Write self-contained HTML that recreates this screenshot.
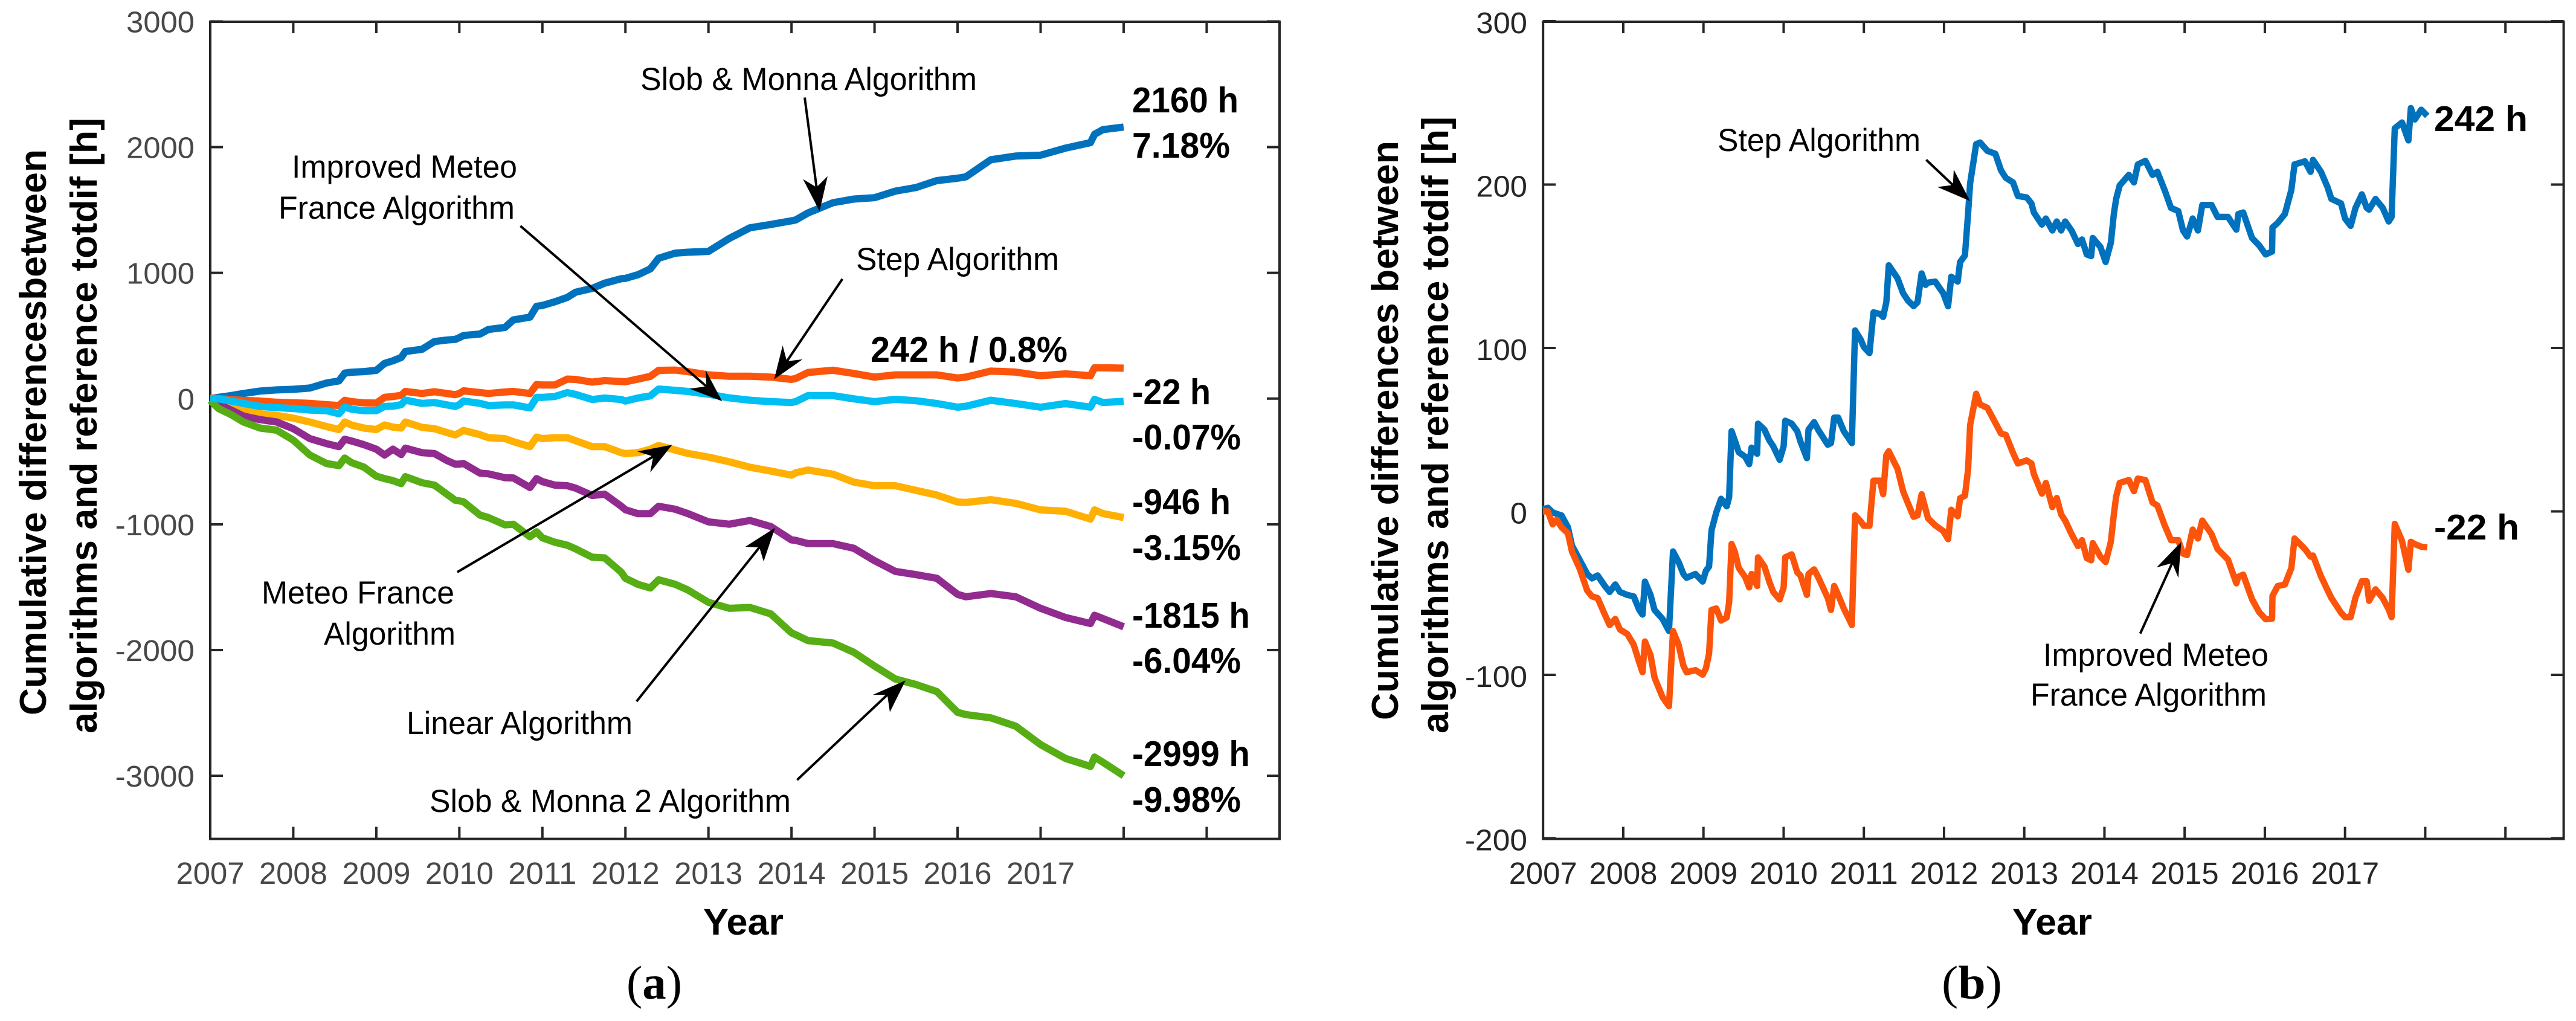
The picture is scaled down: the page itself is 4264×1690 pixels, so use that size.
<!DOCTYPE html>
<html lang="en">
<head>
<meta charset="utf-8">
<title>Cumulative differences between algorithms and reference totdif</title>
<style>
html,body{margin:0;padding:0;background:#fff;}
svg{display:block;}
text{font-family:"Liberation Sans",Arial,sans-serif;}
.ann{font-size:53px;fill:#000;}
.val{font-size:59px;font-weight:bold;fill:#000;}
.ttl{font-size:62px;font-weight:bold;fill:#000;}
.yr{font-size:61px;font-weight:bold;fill:#000;}
.cap{font-family:"Liberation Serif",serif;font-size:78px;fill:#000;}
.arrow-shaft{stroke:#000;stroke-width:4;fill:none;}
.arrow-head{fill:#000;stroke:none;}
</style>
</head>
<body>
<svg id="fig" xmlns="http://www.w3.org/2000/svg" width="4264" height="1690" viewBox="0 0 4264 1690">
<rect x="0" y="0" width="4264" height="1690" fill="#fff"/>
<g id="panelA"></g>
<g id="panelB"></g>

<g>
<text class="ttl" transform="translate(76,1184) rotate(-90)" textLength="937" lengthAdjust="spacingAndGlyphs">Cumulative differencesbetween</text>
<text class="ttl" transform="translate(160,1214) rotate(-90)" textLength="1019" lengthAdjust="spacingAndGlyphs">algorithms and reference totdif [h]</text>
<text class="yr" x="1164" y="1547" textLength="133" lengthAdjust="spacingAndGlyphs">Year</text>
<text class="cap" x="1037" y="1653" textLength="92" lengthAdjust="spacingAndGlyphs">(<tspan font-weight="bold">a</tspan>)</text>

<text class="ann" x="1060" y="149" textLength="557" lengthAdjust="spacingAndGlyphs">Slob &amp; Monna Algorithm</text>
<text class="ann" x="483" y="294" textLength="373" lengthAdjust="spacingAndGlyphs">Improved Meteo</text>
<text class="ann" x="461" y="362" textLength="391" lengthAdjust="spacingAndGlyphs">France Algorithm</text>
<text class="ann" x="1417" y="447" textLength="336" lengthAdjust="spacingAndGlyphs">Step Algorithm</text>
<text class="ann" x="433" y="999" textLength="319" lengthAdjust="spacingAndGlyphs">Meteo France</text>
<text class="ann" x="536" y="1067" textLength="218" lengthAdjust="spacingAndGlyphs">Algorithm</text>
<text class="ann" x="673" y="1215" textLength="374" lengthAdjust="spacingAndGlyphs">Linear Algorithm</text>
<text class="ann" x="711" y="1344" textLength="598" lengthAdjust="spacingAndGlyphs">Slob &amp; Monna 2 Algorithm</text>

<text class="val" x="1441" y="599" textLength="326" lengthAdjust="spacingAndGlyphs">242 h / 0.8%</text>
<text class="val" x="1874" y="186" textLength="176" lengthAdjust="spacingAndGlyphs">2160 h</text>
<text class="val" x="1874" y="261" textLength="162" lengthAdjust="spacingAndGlyphs">7.18%</text>
<text class="val" x="1874" y="669" textLength="130" lengthAdjust="spacingAndGlyphs">-22 h</text>
<text class="val" x="1874" y="744" textLength="180" lengthAdjust="spacingAndGlyphs">-0.07%</text>
<text class="val" x="1874" y="851" textLength="163" lengthAdjust="spacingAndGlyphs">-946 h</text>
<text class="val" x="1874" y="927" textLength="180" lengthAdjust="spacingAndGlyphs">-3.15%</text>
<text class="val" x="1874" y="1039" textLength="195" lengthAdjust="spacingAndGlyphs">-1815 h</text>
<text class="val" x="1874" y="1114" textLength="180" lengthAdjust="spacingAndGlyphs">-6.04%</text>
<text class="val" x="1874" y="1268" textLength="195" lengthAdjust="spacingAndGlyphs">-2999 h</text>
<text class="val" x="1874" y="1344" textLength="180" lengthAdjust="spacingAndGlyphs">-9.98%</text>
</g>

<g>
<g><line class="arrow-shaft" x1="1332" y1="161.5" x2="1351.6" y2="310"/><polygon class="arrow-head" points="1356.6,349.6 1329.2,296.5 1351.6,310 1369.9,291.6"/></g>
<g><line class="arrow-shaft" x1="861.4" y1="374" x2="1169.3" y2="639.6" transform="translate(0,0)"/><polygon class="arrow-head" points="1195.2,664 1167.9,612.5 1169.3,639.6 1141.2,643.4"/></g>
<g><line class="arrow-shaft" x1="1394.4" y1="461.8" x2="1302.5" y2="598"/><polygon class="arrow-head" points="1281.5,627.7 1295.5,571.9 1302.5,598 1328.5,594.7"/></g>
<g><line class="arrow-shaft" x1="756.9" y1="947" x2="1081.3" y2="755.6"/><polygon class="arrow-head" points="1112.6,736.2 1054.9,747.2 1081.3,755.6 1076.3,782"/></g>
<g><line class="arrow-shaft" x1="1053.7" y1="1161" x2="1257" y2="906"/><polygon class="arrow-head" points="1282.9,873.6 1233.8,905 1257,906 1264,929.4"/></g>
<g><line class="arrow-shaft" x1="1319.4" y1="1291" x2="1468.8" y2="1150"/><polygon class="arrow-head" points="1499,1126.2 1445,1150 1468.8,1150 1473,1178.8"/></g>
</g>

<g>
<text class="ttl" transform="translate(2314,1192) rotate(-90)" textLength="959" lengthAdjust="spacingAndGlyphs">Cumulative differences between</text>
<text class="ttl" transform="translate(2397,1214) rotate(-90)" textLength="1021" lengthAdjust="spacingAndGlyphs">algorithms and reference totdif [h]</text>
<text class="yr" x="3331" y="1547" textLength="132" lengthAdjust="spacingAndGlyphs">Year</text>
<text class="cap" x="3214" y="1653" textLength="100" lengthAdjust="spacingAndGlyphs">(<tspan font-weight="bold">b</tspan>)</text>
<text class="ann" x="2843" y="250" textLength="336" lengthAdjust="spacingAndGlyphs">Step Algorithm</text>
<text class="ann" x="3382" y="1102" textLength="373" lengthAdjust="spacingAndGlyphs">Improved Meteo</text>
<text class="ann" x="3361" y="1168" textLength="391" lengthAdjust="spacingAndGlyphs">France Algorithm</text>
<text class="val" x="4029" y="217" textLength="155" lengthAdjust="spacingAndGlyphs">242 h</text>
<text class="val" x="4029" y="893" textLength="141" lengthAdjust="spacingAndGlyphs">-22 h</text>
</g>

<g>
<g><line class="arrow-shaft" x1="3188.4" y1="264.5" x2="3232.6" y2="306.3"/><polygon class="arrow-head" points="3261,332.8 3234,280.8 3232.6,306.3 3206.8,309.5"/></g>
<g><line class="arrow-shaft" x1="3542.7" y1="1048.7" x2="3595.6" y2="932"/><polygon class="arrow-head" points="3610.5,897 3569.8,939.2 3595.6,932 3605.8,956.5"/></g>
</g>
</svg>

<script>
/* ---------- Panel (a) data ---------- */
const yearsA = [2007,2007.1,2007.25,2007.4,2007.6,2007.8,
2008,2008.2,2008.4,2008.55,2008.62,2008.7,2008.85,
2009,2009.1,2009.2,2009.3,2009.35,2009.55,2009.7,2009.85,2009.95,
2010,2010.05,2010.25,2010.35,2010.55,2010.65,2010.85,2010.93,
2011,2011.15,2011.3,2011.4,2011.6,2011.75,2011.95,
2012,2012.15,2012.3,2012.4,2012.6,
2012.75,2013,2013.25,2013.5,2013.75,2014,2014.05,2014.2,2014.5,2014.75,
2015,2015.25,2015.5,2015.75,2016,2016.1,2016.4,2016.7,2017,2017.3,2017.6,2017.65,2017.75,2018];

const slobMonna = [0,10,24,41,60,69,
74,84,124,141,203,210,215,
225,280,301,327,375,392,454,466,471,
485,502,514,550,566,626,648,734,
741,770,805,846,877,918,954,
956,985,1032,1116,1157,
1164,1171,1274,1359,1385,1414,1421,1477,1558,1587,
1598,1650,1679,1734,1753,1764,1900,1929,1936,1992,2036,2102,2139,2160];

const stepAlg = [5,0,-7,-14,-19,-29,
-33,-38,-48,-55,-14,-24,-33,
-36,10,17,26,57,41,55,41,31,
41,62,48,41,53,57,41,112,
108,108,155,153,131,143,136,
134,155,177,225,227,
215,189,178,178,171,153,160,208,226,200,
171,189,189,189,164,171,219,211,182,197,182,245,245,242];

const meteoFrance = [0,-19,-55,-91,-120,-134,
-155,-186,-222,-246,-186,-210,-234,
-246,-210,-227,-234,-186,-229,-239,-270,-289,
-272,-253,-287,-311,-318,-342,-382,-306,
-318,-311,-311,-335,-382,-382,-430,
-437,-430,-402,-373,-409,
-436,-465,-502,-546,-576,-609,-590,-568,-601,-664,
-693,-693,-730,-767,-822,-826,-804,-833,-885,-896,-958,-885,-914,-946];

const linearAlg = [-7,-43,-91,-139,-167,-186,
-239,-318,-358,-382,-323,-337,-366,
-402,-449,-402,-445,-394,-430,-437,-492,-521,
-521,-516,-593,-598,-629,-631,-707,-636,
-660,-688,-693,-712,-770,-760,-856,
-884,-915,-915,-856,-880,
-914,-980,-999,-969,-1017,-1124,-1127,-1153,-1153,-1190,
-1289,-1374,-1400,-1429,-1557,-1576,-1550,-1576,-1668,-1741,-1789,-1723,-1749,-1815];

const slobMonna2 = [-14,-79,-127,-186,-234,-251,
-330,-449,-516,-533,-473,-509,-545,
-617,-636,-652,-676,-621,-669,-688,-760,-808,
-813,-820,-927,-946,-1004,-999,-1099,-1059,
-1107,-1142,-1166,-1195,-1262,-1267,-1381,
-1429,-1477,-1506,-1441,-1477,
-1521,-1620,-1668,-1661,-1712,-1863,-1878,-1925,-1944,-2017,
-2127,-2230,-2274,-2330,-2495,-2513,-2539,-2605,-2752,-2862,-2925,-2851,-2892,-2999];

const improvedMeteo = [0,-2,-19,-38,-62,-72,
-79,-91,-96,-120,-67,-84,-96,
-96,-62,-60,-48,-12,-38,-31,-50,-62,
-48,-19,-38,-55,-50,-50,-74,10,
10,17,48,33,-7,5,-7,
-19,5,22,76,66,
57,35,6,-13,-24,-31,-24,24,24,-2,
-24,-6,-17,-39,-68,-61,-13,-39,-68,-39,-68,-6,-31,-22];

const yTicksA = [3000,2000,1000,0,-1000,-2000,-3000];
const xTickYears = [2008,2009,2010,2011,2012,2013,2014,2015,2016,2017,2018,2019];
const xTickLabels = [2007,2008,2009,2010,2011,2012,2013,2014,2015,2016,2017];

/* ---------- Panel (b) data ---------- */
const yearsB = [2007,2007.06,2007.12,2007.17,2007.23,2007.31,2007.36,2007.46,2007.55,2007.61,
2007.68,2007.77,2007.83,2007.9,2007.96,2008.05,2008.13,2008.2,2008.24,2008.27,
2008.34,2008.39,2008.49,2008.57,2008.62,2008.69,2008.75,2008.79,2008.9,2008.99,
2009.03,2009.07,2009.1,2009.16,2009.22,2009.29,2009.32,2009.35,2009.39,2009.44,
2009.52,2009.57,2009.6,2009.67,2009.68,2009.76,2009.82,2009.87,2009.95,2010,
2010.02,2010.1,2010.17,2010.21,2010.29,2010.31,2010.38,2010.43,2010.55,2010.59,
2010.63,2010.68,2010.75,2010.85,2010.89,2010.96,2011,2011.07,2011.12,2011.2,
2011.24,2011.28,2011.31,2011.42,2011.49,2011.55,2011.62,2011.67,2011.72,2011.77,
2011.8,2011.89,2011.99,2012.05,2012.09,2012.17,2012.2,2012.26,2012.3,2012.325,
2012.4,2012.45,2012.54,2012.64,2012.71,2012.77,2012.86,2012.92,2013.03,2013.09,
2013.12,2013.22,2013.27,2013.35,2013.405,2013.46,2013.51,2013.59,2013.67,2013.72,
2013.78,2013.835,2013.854,2013.95,2014.015,2014.08,2014.117,2014.146,2014.19,2014.304,
2014.368,2014.416,2014.51,2014.6,2014.66,2014.75,2014.83,2014.92,2014.98,2015.03,
2015.1,2015.166,2015.22,2015.335,2015.41,2015.54,2015.645,2015.67,2015.73,2015.84,
2015.93,2016.01,2016.09,2016.095,2016.16,2016.25,2016.33,2016.37,2016.5,2016.57,
2016.6,2016.7,2016.78,2016.83,2016.95,2017,2017.07,2017.13,2017.21,2017.27,
2017.3,2017.38,2017.47,2017.545,2017.58,2017.62,2017.71,2017.79,2017.82,2017.87,
2017.95,2018.025];

const stepB = [1.3,2.2,-0.6,-1.5,-2.4,-9.7,-20.8,-30,-38.3,-41,
-39.2,-45.6,-49.3,-44.7,-49.3,-51.1,-52,-60.3,-63.1,-42.9,
-51.1,-60.3,-65.8,-73.2,-24.5,-30.9,-38.3,-40.6,-38.3,-42.9,
-36.4,-33.7,-11.6,-0.6,7.7,3.1,8.6,49.1,43.6,36.2,
33.5,28.9,39,35.3,53.7,50,43.6,39.9,31.6,39.9,
55.5,53.7,49.1,42.7,32.6,50,54.6,50,40.8,41.8,
57.4,57.4,49.1,41.8,110.7,105.2,100.6,96.9,121.8,120.8,
119,128,150.6,142.6,133.5,129,125.6,128,145.6,138.6,
140,140.6,133.5,125.5,143.6,140.6,152.6,156.6,182.6,200.7,
224.7,225.7,220.6,218.8,208.7,204.1,201.3,193,192.1,188.4,
182.9,175.5,179.2,171.9,177.4,171.9,177.4,171.9,163.6,166.4,
157.2,156.2,167.3,161.8,152.6,164.5,182,191.2,199.5,205.9,
201.3,212.3,214.5,205.9,207.8,196.7,185.7,183.8,171.9,168.2,
179.2,171.9,187.5,187.5,180.2,180.2,172.4,182,182.9,167.3,
162.7,157.2,159,173.7,176.5,182,196.7,212.3,214.2,207.8,
215.1,207.8,198.6,191.2,188.4,179.2,174.7,185.7,194,185.7,
184.6,191.2,185.7,177.4,180.2,234.4,238,227,246.8,239.8,
245.8,242];

const improvedB = [0,0,-7.9,-5.1,-9.7,-13.4,-24.5,-35.5,-48.4,-52,
-53,-63.1,-69.5,-65.8,-72.3,-75,-81.5,-92.5,-98.4,-79.6,
-87.9,-101.7,-113.7,-119.2,-73.2,-81.5,-94.4,-98.4,-97.1,-99.9,
-96.2,-87,-60.3,-59.4,-66.8,-64.9,-55.7,-19.9,-24.5,-34.6,
-40.1,-46.5,-38.3,-45.6,-28.1,-33.7,-42.9,-49.3,-53.9,-46.5,
-28.1,-26.3,-37.3,-39.2,-51.1,-38.3,-35.5,-40.1,-53,-60.3,
-45.6,-51.1,-59.4,-69.5,-2.4,-6.1,-8.8,-8.8,18.8,18.8,
10.5,34.4,36.8,26,12.3,5,-3.3,-2.4,10.5,1.3,
-4.2,-8.5,-12,-17,1,-3,8,9.6,26,52.8,
72,65.4,63.4,54.2,47.7,46.8,35.8,29.3,31.2,29.3,
22.9,10.9,17.4,2.7,8.2,-1.9,-5.6,-13.9,-21.2,-17.6,
-28.6,-29.9,-19.4,-27.7,-31,-18.5,-1.9,9.1,17.4,19.2,
12.4,20.1,19.2,5.4,3.6,-8.4,-17.6,-17.6,-25.8,-26.7,
-11.1,-16.6,-5.6,-13.9,-23,-29.5,-44,-40,-38.7,-53.7,
-61.7,-66,-65.7,-51.7,-45.7,-44.7,-34.7,-16.6,-23,-27.7,
-27,-39.7,-48,-53,-62,-64.7,-64.7,-52.7,-42.7,-42.7,
-54.7,-47.7,-53,-60,-64.7,-7.6,-18,-35.7,-18.6,-20,
-21.6,-22];

const yTicksB = [300,200,100,0,-100,-200];

/* ---------- Axis functions ---------- */
const NS = 'http://www.w3.org/2000/svg';
function xA(t){ return 348 + (t - 2007) * 137.45; }
function yA(v){ return 659.8 - v * 0.20812; }
function xB(t){ return 2554.2 + (t - 2007) * 132.75; }
function yB(v){ return 846.5 - v * 2.7052; }

function make(tag, parent, attrs){
  const el = document.createElementNS(NS, tag);
  for (const k in attrs) el.setAttribute(k, attrs[k]);
  parent.appendChild(el);
  return el;
}
function pathOf(xs, ys, fx, fy){
  return xs.map(function(t, i){
    return (i ? 'L' : 'M') + fx(t).toFixed(1) + ' ' + fy(ys[i]).toFixed(1);
  }).join(' ');
}
function labelWidth(s){
  let w = 0;
  for (const c of String(s)) w += (c === '-') ? 18.5 : 28.2;
  return w;
}

function drawAxes(g, box, fx, fy, yTicks, color, yLabelRight, yOffset){
  const frame = make('rect', g, {x: box.l, y: box.t, width: box.r - box.l, height: box.b - box.t, fill: 'none', stroke: '#262626', 'stroke-width': 4});
  
  

  xTickYears.forEach(function(t){
    const bottom = make('line', g, {x1: fx(t), x2: fx(t), y1: box.b, y2: box.b - 20, stroke: '#262626', 'stroke-width': 4});
    
    
    const top = make('line', g, {x1: fx(t), x2: fx(t), y1: box.t, y2: box.t + 19, stroke: '#262626', 'stroke-width': 4});
    
    
  });

  xTickLabels.forEach(function(y){
    const el = make('text', g, {x: fx(y), y: 1463, 'text-anchor': 'middle', 'font-size': 51, fill: color, textLength: 113, lengthAdjust: 'spacingAndGlyphs'});
    el.textContent = y;
    
    
  });

  yTicks.forEach(function(v){
    const left = make('line', g, {x1: box.l, x2: box.l + 21, y1: fy(v), y2: fy(v), stroke: '#262626', 'stroke-width': 4});
    
    
    const right = make('line', g, {x1: box.r, x2: box.r - 21, y1: fy(v), y2: fy(v), stroke: '#262626', 'stroke-width': 4});
    
    
    const txt = String(v);
    const el = make('text', g, {x: yLabelRight, y: fy(v) + yOffset, 'text-anchor': 'end', 'font-size': 49, fill: color, textLength: labelWidth(txt), lengthAdjust: 'spacingAndGlyphs'});
    el.textContent = txt;
    
    
  });
}

function drawSeries(g, xs, ys, fx, fy, color, width, name){
  const el = make('path', g, {d: pathOf(xs, ys, fx, fy), fill: 'none', stroke: color, 'stroke-width': width, 'stroke-linejoin': 'round', 'stroke-linecap': 'butt'});
  
  
}

const gA = document.getElementById('panelA');
drawAxes(gA, {l: 348, r: 2118, t: 36, b: 1388.6}, xA, yA, yTicksA, '#484848', 322, 18);
drawSeries(gA, yearsA, slobMonna, xA, yA, '#0072bd', 12, 'series-slob-monna');
drawSeries(gA, yearsA, stepAlg, xA, yA, '#fc540a', 12, 'series-step');
drawSeries(gA, yearsA, meteoFrance, xA, yA, '#ffb000', 12, 'series-meteo-france');
drawSeries(gA, yearsA, linearAlg, xA, yA, '#922b90', 12, 'series-linear');
drawSeries(gA, yearsA, slobMonna2, xA, yA, '#56ad14', 12, 'series-slob-monna-2');
drawSeries(gA, yearsA, improvedMeteo, xA, yA, '#00bff3', 12, 'series-improved-meteo');

const gB = document.getElementById('panelB');
drawAxes(gB, {l: 2554.2, r: 4243.6, t: 36, b: 1388.6}, xB, yB, yTicksB, '#262626', 2528, 20);
drawSeries(gB, yearsB, stepB, xB, yB, '#0072bd', 10.5, 'series-step-b');
drawSeries(gB, yearsB, improvedB, xB, yB, '#fc540a', 10.5, 'series-improved-meteo-b');
</script>
</body>
</html>
